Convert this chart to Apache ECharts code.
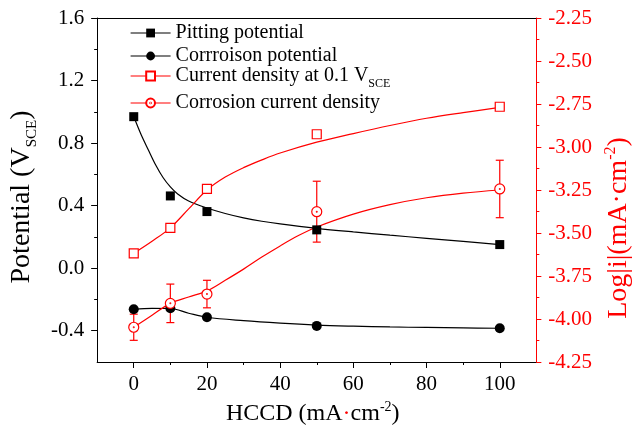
<!DOCTYPE html>
<html><head><meta charset="utf-8">
<script src="https://cdn.jsdelivr.net/npm/echarts@6/dist/echarts.min.js"></script>
<style>html,body{margin:0;padding:0;background:#fff}#c{width:641px;height:432px}</style>
</head><body><div id="c"></div>
<script>
// ---- data ----
const xValues = [0, 10, 20, 50, 100];
const pittingPotential = [0.969, 0.462, 0.362, 0.245, 0.151];
const corrosionPotential = [-0.263, -0.256, -0.314, -0.369, -0.384];
const currentDensity01 = [-3.618, -3.47, -3.244, -2.926, -2.766];
const corrosionCurrent = [-4.048, -3.909, -3.855, -3.376, -3.244];
const corrosionCurrentErr = [0.076, 0.112, 0.08, 0.177, 0.167];

// fitted curves as drawn in the picture
const pittingFitX = [0, 2, 4, 6, 8, 10, 12, 15, 20, 25, 30, 35, 40, 50, 60, 70, 80, 90, 100];
const pittingFitY = [0.97, 0.855, 0.756, 0.66, 0.58, 0.52, 0.475, 0.43, 0.385, 0.35, 0.322, 0.30, 0.283, 0.255, 0.232, 0.211, 0.191, 0.171, 0.151];
const corrPotFitX = [0, 5, 10, 15, 20, 30, 40, 50, 60, 70, 80, 90, 100];
const corrPotFitY = [-0.263, -0.257, -0.258, -0.288, -0.314, -0.336, -0.352, -0.364, -0.371, -0.376, -0.379, -0.382, -0.384];
const curDenFitX = [0, 5, 10, 15, 20, 25, 30, 35, 40, 50, 60, 70, 80, 90, 100];
const curDenFitY = [-3.618, -3.548, -3.47, -3.36, -3.25, -3.175, -3.12, -3.075, -3.035, -2.972, -2.922, -2.875, -2.833, -2.80, -2.77];
const corrCurFitX = [0, 5, 10, 15, 20, 25, 30, 35, 40, 45, 50, 60, 70, 80, 90, 100];
const corrCurFitY = [-4.048, -3.978, -3.909, -3.872, -3.837, -3.775, -3.71, -3.64, -3.575, -3.515, -3.465, -3.39, -3.335, -3.295, -3.268, -3.25];

// tick labels
const xTickLabels = [0, 20, 40, 60, 80, 100];
const xMinorTicks = [10, 30, 50, 70, 90];
const leftTickLabels = [-0.4, 0.0, 0.4, 0.8, 1.2, 1.6];
const leftMinorTicks = [-0.2, 0.2, 0.6, 1.0, 1.4];
const seriesNames = ['Pitting potential', 'Corrroison potential', 'Current density at 0.1 VSCE', 'Corrosion current density'];

// ---- chart ----
const FONT = "'Liberation Serif','Times New Roman',serif";
const RED = '#ff0000';
const zip = (xs, ys) => xs.map((x, i) => [x, ys[i]]);
const circleDot = 'path://M50,0A50,50,0,1,1,50,100A50,50,0,1,1,50,0ZM50,46A4,4,0,1,1,50,54A4,4,0,1,1,50,46Z';

const chart = echarts.init(document.getElementById('c'), null, {renderer: 'canvas'});

const legendTops = [23, 46, 66, 93];
const legendColors = ['#000', '#000', RED, RED];
const legends = seriesNames.map((n, i) => ({
  data: [{name: n, lineStyle: {color: legendColors[i], width: 1.2, opacity: 1}}],
  left: 130, top: legendTops[i], padding: 0,
  itemWidth: 40, itemHeight: 11, selectedMode: false,
  formatter: (name) => name === seriesNames[2] ? '{a|Current density at 0.1 V}{sub|SCE}' : '{a|' + name + '}',
  textStyle: {
    fontFamily: FONT, fontSize: 20, color: '#000',
    rich: {
      a: {fontFamily: FONT, fontSize: 20, color: '#000', lineHeight: 22},
      sub: {fontFamily: FONT, fontSize: 12, color: '#000', verticalAlign: 'bottom', lineHeight: 12, padding: [0, 0, -3, 0]}
    }
  }
}));

const baseFit = {type: 'line', symbol: 'none', smooth: 0.35, silent: true, z: 2};

chart.setOption({
  animation: false,
  backgroundColor: '#fff',
  legend: legends,
  grid: {left: 95, right: 102, top: 18, bottom: 70, containLabel: false},
  xAxis: [
    {
      type: 'value', min: -10, max: 110, interval: 10, position: 'bottom',
      name: '{a|HCCD (mA}{r|·}{a|cm}{sup|-2}{a|)}', nameLocation: 'middle', nameGap: 38,
      nameTextStyle: {
        fontFamily: FONT, fontSize: 24, color: '#000', padding: [0, 8, 0, 0],
        rich: {
          a: {fontFamily: FONT, fontSize: 24, color: '#000', lineHeight: 28},
          r: {fontFamily: FONT, fontSize: 24, color: RED, lineHeight: 28},
          sup: {fontFamily: FONT, fontSize: 14, color: '#000', verticalAlign: 'top', lineHeight: 14}
        }
      },
      axisLine: {show: true, onZero: false, lineStyle: {color: '#000', width: 1}},
      axisTick: {show: true, inside: false, length: 6, customValues: xTickLabels, lineStyle: {color: '#000'}},
      axisLabel: {show: true, customValues: xTickLabels, fontFamily: FONT, fontSize: 21, color: '#000', margin: 12},
      splitLine: {show: false}
    },
    {
      type: 'value', min: -10, max: 110, position: 'bottom',
      axisLine: {show: false, onZero: false}, axisLabel: {show: false},
      axisTick: {show: true, length: 3, customValues: xMinorTicks, lineStyle: {color: '#000'}},
      splitLine: {show: false}
    },
    {
      type: 'value', min: -10, max: 110, position: 'top',
      axisLine: {show: true, onZero: false, lineStyle: {color: '#000', width: 1}},
      axisLabel: {show: false}, axisTick: {show: false}, splitLine: {show: false}
    }
  ],
  yAxis: [
    {
      type: 'value', min: -0.6, max: 1.6, position: 'left',
      name: '{a|Potential (V}{sub|SCE}{a|)}', nameLocation: 'middle', nameGap: 51, nameRotate: 90,
      nameTextStyle: {
        fontFamily: FONT, fontSize: 28, color: '#000', padding: [0, 14, 0, 0],
        rich: {
          a: {fontFamily: FONT, fontSize: 28, color: '#000', lineHeight: 32},
          sub: {fontFamily: FONT, fontSize: 15, color: '#000', verticalAlign: 'bottom', lineHeight: 15, padding: [0, 0, -2, 0]}
        }
      },
      axisLine: {show: true, onZero: false, lineStyle: {color: '#000', width: 1}},
      axisTick: {show: true, length: 6, customValues: leftTickLabels, lineStyle: {color: '#000'}},
      axisLabel: {show: true, customValues: leftTickLabels, formatter: v => Number(v).toFixed(1), fontFamily: FONT, fontSize: 21, color: '#000', margin: 13},
      splitLine: {show: false}
    },
    {
      type: 'value', min: -0.6, max: 1.6, position: 'left',
      axisLine: {show: false, onZero: false}, axisLabel: {show: false},
      axisTick: {show: true, length: 3, customValues: leftMinorTicks, lineStyle: {color: '#000'}},
      splitLine: {show: false}
    },
    {
      type: 'value', min: -4.25, max: -2.25, interval: 0.25, position: 'right',
      name: '{a|Log|i|(mA·cm}{sup|-2}{a|)}', nameLocation: 'middle', nameGap: 62, nameRotate: 90,
      nameTextStyle: {
        fontFamily: FONT, fontSize: 28, color: RED, padding: [0, 76, 0, 0],
        rich: {
          a: {fontFamily: FONT, fontSize: 28, color: RED, lineHeight: 32},
          sup: {fontFamily: FONT, fontSize: 16, color: RED, verticalAlign: 'top', lineHeight: 16}
        }
      },
      axisLine: {show: true, onZero: false, lineStyle: {color: RED, width: 1}},
      axisTick: {show: true, length: 5, lineStyle: {color: RED}},
      minorTick: {show: true, splitNumber: 2, length: 3, lineStyle: {color: RED}},
      axisLabel: {show: true, formatter: v => Number(v).toFixed(2), fontFamily: FONT, fontSize: 21, color: RED, margin: 12},
      splitLine: {show: false}, minorSplitLine: {show: false}
    }
  ],
  series: [
    Object.assign({}, baseFit, {name: 'fit1', yAxisIndex: 0, data: zip(pittingFitX, pittingFitY), lineStyle: {color: '#000', width: 1.2}}),
    Object.assign({}, baseFit, {name: 'fit2', yAxisIndex: 0, data: zip(corrPotFitX, corrPotFitY), lineStyle: {color: '#000', width: 1.2}}),
    Object.assign({}, baseFit, {name: 'fit3', yAxisIndex: 2, data: zip(curDenFitX, curDenFitY), lineStyle: {color: RED, width: 1.2}}),
    Object.assign({}, baseFit, {name: 'fit4', yAxisIndex: 2, data: zip(corrCurFitX, corrCurFitY), lineStyle: {color: RED, width: 1.2}}),
    {
      name: 'errbars', type: 'custom', yAxisIndex: 2, z: 3, silent: true,
      data: xValues.map((x, i) => [x, corrosionCurrent[i] - corrosionCurrentErr[i], corrosionCurrent[i] + corrosionCurrentErr[i]]),
      encode: {x: 0, y: [1, 2]},
      renderItem: (params, api) => {
        const x = api.value(0);
        const lo = api.coord([x, api.value(1)]);
        const hi = api.coord([x, api.value(2)]);
        const w = 4;
        const st = {stroke: RED, lineWidth: 1.2};
        return {type: 'group', children: [
          {type: 'line', shape: {x1: lo[0], y1: lo[1], x2: hi[0], y2: hi[1]}, style: st},
          {type: 'line', shape: {x1: lo[0] - w, y1: lo[1], x2: lo[0] + w, y2: lo[1]}, style: st},
          {type: 'line', shape: {x1: hi[0] - w, y1: hi[1], x2: hi[0] + w, y2: hi[1]}, style: st}
        ]};
      }
    },
    {
      name: seriesNames[0], type: 'line', yAxisIndex: 0, z: 5, data: zip(xValues, pittingPotential),
      symbol: 'rect', symbolSize: 9, showSymbol: true,
      itemStyle: {color: '#000'}, lineStyle: {opacity: 0, width: 1.2, color: '#000'}
    },
    {
      name: seriesNames[1], type: 'line', yAxisIndex: 0, z: 5, data: zip(xValues, corrosionPotential),
      symbol: 'circle', symbolSize: 10, showSymbol: true,
      itemStyle: {color: '#000'}, lineStyle: {opacity: 0, width: 1.2, color: '#000'}
    },
    {
      name: seriesNames[2], type: 'line', yAxisIndex: 2, z: 5, data: zip(xValues, currentDensity01),
      symbol: 'rect', symbolSize: 9, showSymbol: true,
      itemStyle: {color: '#fff', borderColor: RED, borderWidth: 1.2}, lineStyle: {opacity: 0, width: 1.2, color: RED}
    },
    {
      name: seriesNames[3], type: 'line', yAxisIndex: 2, z: 5, data: zip(xValues, corrosionCurrent),
      symbol: circleDot, symbolSize: 10, showSymbol: true,
      itemStyle: {color: '#fff', borderColor: RED, borderWidth: 1.2}, lineStyle: {opacity: 0, width: 1.2, color: RED}
    }
  ]
});
</script>
</body></html>
